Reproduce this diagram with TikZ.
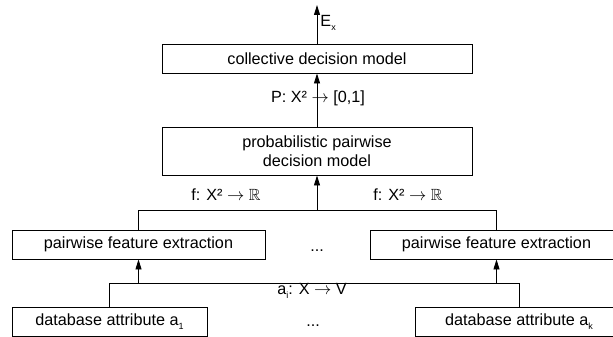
\documentclass[tikz,border=0pt]{standalone}
\usepackage{fontspec}
\setmainfont{Liberation Sans}
\usepackage{amssymb}
\usetikzlibrary{arrows.meta}
\begin{document}
\begin{tikzpicture}[x=1pt, y=-1pt, line width=0.9pt, font=\fontsize{16.2}{19}\selectfont]
      \tikzset{
	  modelbox/.style={rectangle, draw=black, inner sep=0pt, minimum width=310pt, minimum height=29pt, text centered, align=center},
	  featurebox/.style={rectangle, draw=black, inner sep=0pt, minimum width=253pt, minimum height=29pt, text centered},
	  attributebox/.style={rectangle, draw=black, inner sep=0pt, minimum height=29pt, text centered},
	  flow/.style={-{Triangle[width=6pt,length=10pt]}},
	  maplabel/.style={inner sep=0pt}
      }

      \def\mapsq{X²~$\rightarrow$~}
      \def\lowsub#1{\raisebox{-0.45ex}{\fontsize{9}{9}\selectfont #1}}

      \useasboundingbox (0,0) rectangle (613,337);
      \clip (0,0) rectangle (613,337);

      \node [modelbox] (collective) at (317,58.5) {collective decision model};
      \node [modelbox, minimum height=48pt] (probabilistic) at (317,151) {probabilistic pairwise\\decision model};
      \node [featurebox] (featureL) at (138.5,244.5) {pairwise feature extraction};
      \node [featurebox] (featureR) at (496.5,244.5) {pairwise feature extraction};
      \node [attributebox, minimum width=195pt] (attributeL) at (109.5,321.5) {database attribute a\lowsub{1}};
      \node [attributebox, minimum width=208pt] (attributeR) at (519,321.5) {database attribute a\lowsub{k}};
      \node (dotsF) at (317,251) {...};
      \node (dotsA) at (313,326) {...};

      \coordinate (featurebus) at (0,210);
      \coordinate (attributebus) at (0,283);
      \coordinate (output) at (317,5);

      \draw (attributeL.north) |- (attributebus -| attributeR.north) -- (attributeR.north);
      \draw [flow] (attributebus -| featureL.south) -- (featureL.south);
      \draw [flow] (attributebus -| featureR.south) -- (featureR.south);
      \draw (featureL.north) |- (featurebus -| featureR.north) -- (featureR.north);
      \draw [flow] (featurebus -| probabilistic.south) -- (probabilistic.south);
      \draw [flow] (probabilistic.north) -- (collective.south);
      \draw [flow] (collective.north) -- (output);

      \node [maplabel, anchor=west] (ex) at (320,23) {E\lowsub{x}};
      \node [maplabel] (pmap) at (318,98) {P: \mapsq[0,1]};
      \node [maplabel] (fmapL) at (226,195) {f: \mapsq$\mathbb{R}$};
      \node [maplabel] (fmapR) at (408,195) {f: \mapsq$\mathbb{R}$};
      \node [maplabel] (amap) at (312,291) {a\lowsub{i}: X~$\rightarrow$~V};
    \end{tikzpicture}
\end{document}
